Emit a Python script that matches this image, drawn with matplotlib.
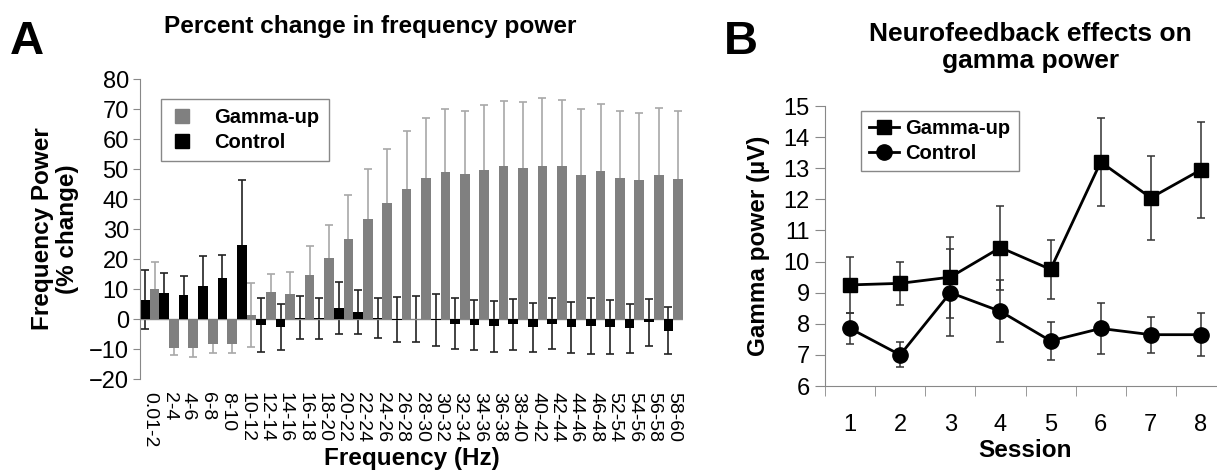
import numpy as np
import matplotlib
matplotlib.use("Agg")
import matplotlib.pyplot as plt
from matplotlib.lines import Line2D

plt.rcParams['font.family'] = ['Liberation Sans', 'DejaVu Sans']

# panel A data
freq_bands = ['0.01-2', '2-4', '4-6', '6-8', '8-10', '10-12', '12-14', '14-16',
              '16-18', '18-20', '20-22', '22-24', '24-26', '26-28', '28-30',
              '30-32', '32-34', '34-36', '36-38', '38-40', '40-42', '42-44',
              '44-46', '46-48', '52-54', '54-56', '56-58', '58-60']
control_pct = [6.5, 8.6, 8.0, 11.1, 13.8, 24.8, -2.0, -2.7, 0.5, 0.2, 3.6, 2.3,
               0.3, -0.2, -0.1, -0.3, -1.5, -2.0, -2.4, -1.8, -2.8, -1.6,
               -2.8, -2.4, -2.7, -3.1, -1.1, -3.9]
control_pct_err = [9.8, 6.6, 6.4, 9.9, 7.6, 21.4, 9.0, 7.6, 7.2, 6.8, 8.6, 7.4,
                   6.6, 7.4, 7.7, 8.7, 8.6, 8.3, 8.5, 8.4, 8.3, 8.5,
                   8.6, 9.3, 9.1, 8.2, 7.9, 7.8]
gamma_pct = [10.0, -9.6, -9.6, -8.3, -8.3, 1.4, 8.9, 8.5, 14.6, 20.3, 26.6, 33.4,
             38.6, 43.5, 47.1, 49.1, 48.5, 49.6, 51.0, 50.5, 51.0, 50.9,
             48.1, 49.4, 47.0, 46.4, 48.1, 46.6]
gamma_pct_err = [9.0, 2.4, 3.0, 2.9, 3.1, 10.6, 6.2, 7.3, 9.8, 11.2, 14.6, 16.5,
                 18.0, 19.1, 19.9, 20.9, 20.7, 21.8, 21.8, 22.0, 22.8, 22.1,
                 21.8, 22.2, 22.4, 22.3, 22.4, 22.6]

# panel B data
sessions = [1, 2, 3, 4, 5, 6, 7, 8]
gamma_up = [9.25, 9.3, 9.5, 10.45, 9.75, 13.2, 12.05, 12.95]
gamma_up_err = [0.9, 0.7, 1.3, 1.35, 0.95, 1.4, 1.35, 1.55]
control = [7.85, 7.0, 9.0, 8.4, 7.45, 7.85, 7.65, 7.65]
control_err = [0.5, 0.4, 1.4, 1.0, 0.6, 0.83, 0.58, 0.7]

fig = plt.figure(figsize=(12.17, 4.70), dpi=100)

# ---------------- panel A ----------------
axA = fig.add_axes([0.115, 0.1936, 0.4462, 0.6383])
x = np.arange(len(freq_bands))
w = 0.5
axA.errorbar(x - w / 2, control_pct, yerr=control_pct_err, fmt='none',
             ecolor='#222222', elinewidth=1.2, capsize=3, capthick=1.2, zorder=1)
axA.errorbar(x + w / 2, gamma_pct, yerr=gamma_pct_err, fmt='none',
             ecolor='#a8a8a8', elinewidth=1.2, capsize=3, capthick=1.2, zorder=1)
axA.bar(x - w / 2, control_pct, width=w, color='black', zorder=2)
axA.bar(x + w / 2, gamma_pct, width=w, color='#808080', zorder=2)
axA.axhline(0, color='#888888', lw=1, zorder=1.5)

axA.set_xlim(-0.5, len(freq_bands) - 0.5)
axA.set_ylim(-20, 80)
axA.set_yticks(np.arange(-20, 81, 10))
axA.set_xticks(x)
axA.set_xticklabels(freq_bands, rotation=-90, fontsize=14, va='top', ha='center')
axA.tick_params(axis='x', length=0, pad=9)
axA.tick_params(axis='y', labelsize=17, length=5, color='#888888', pad=3)
for s in ['top', 'right', 'bottom']:
    axA.spines[s].set_visible(False)
axA.spines['left'].set_color('#888888')
axA.set_xlabel('Frequency (Hz)', fontsize=17.5, fontweight='bold', labelpad=0)
axA.set_ylabel('Frequency Power\n(% change)', fontsize=17.5, fontweight='bold',
               labelpad=7, linespacing=1.1)

handlesA = [Line2D([], [], marker='s', ls='none', color='#808080', markersize=10),
            Line2D([], [], marker='s', ls='none', color='black', markersize=10)]
legA = axA.legend(handlesA, ['Gamma-up', 'Control'], loc='upper left',
                  bbox_to_anchor=(0.0387, 0.933), fancybox=False, framealpha=1,
                  edgecolor='#888888', prop={'size': 14.5, 'weight': 'bold'},
                  handlelength=1.2, handletextpad=1.0, borderpad=0.45,
                  labelspacing=0.3, borderaxespad=0)
legA.get_frame().set_linewidth(1)

fig.text(0.304, 0.943, 'Percent change in frequency power', fontsize=17.6,
         fontweight='bold', ha='center', va='center')
fig.text(0.008, 0.91, 'A', fontsize=34, fontweight='bold', ha='left', va='center')

# ---------------- panel B ----------------
axB = fig.add_axes([0.6779, 0.1787, 0.3295, 0.5957])
axB.errorbar(sessions, gamma_up, yerr=gamma_up_err, fmt='-s', color='black',
             ecolor='#333333', elinewidth=1.1, capsize=3, capthick=1.1,
             lw=2, markersize=10, label='Gamma-up')
axB.errorbar(sessions, control, yerr=control_err, fmt='-o', color='black',
             ecolor='#333333', elinewidth=1.1, capsize=3, capthick=1.1,
             lw=2, markersize=11, label='Control')
axB.set_xlim(0.5, 8.5)
axB.set_ylim(6, 15)
axB.set_yticks(np.arange(6, 16, 1))
axB.set_xticks(sessions)
axB.set_xticks(np.arange(0.5, 9, 1), minor=True)
axB.tick_params(axis='x', which='major', length=0, pad=20, labelsize=17)
axB.tick_params(axis='x', which='minor', length=7, direction='out', color='#888888')
axB.tick_params(axis='y', labelsize=17, length=7, color='#888888', pad=4)
for s in ['top', 'right']:
    axB.spines[s].set_visible(False)
axB.spines['left'].set_color('#888888')
axB.spines['bottom'].set_color('#888888')
axB.set_xlabel('Session', fontsize=17.5, fontweight='bold', labelpad=2)
axB.set_ylabel('Gamma power (\u00b5V)', fontsize=17.5, fontweight='bold', labelpad=10)

handlesB = [Line2D([], [], marker='s', color='black', lw=2, markersize=10),
            Line2D([], [], marker='o', color='black', lw=2, markersize=11)]
legB = axB.legend(handlesB, ['Gamma-up', 'Control'], loc='upper left',
                  bbox_to_anchor=(0.09, 0.982), fancybox=False, framealpha=1,
                  edgecolor='#888888', prop={'size': 14.5, 'weight': 'bold'},
                  handlelength=1.5, handletextpad=0.3, borderpad=0.4,
                  labelspacing=0.3, borderaxespad=0)
legB.get_frame().set_linewidth(1)

fig.text(0.847, 0.899, 'Neurofeedback effects on\ngamma power', fontsize=19,
         fontweight='bold', ha='center', va='center', linespacing=1.13)
fig.text(0.595, 0.91, 'B', fontsize=34, fontweight='bold', ha='left', va='center')

fig.savefig('out.png', dpi=100)
